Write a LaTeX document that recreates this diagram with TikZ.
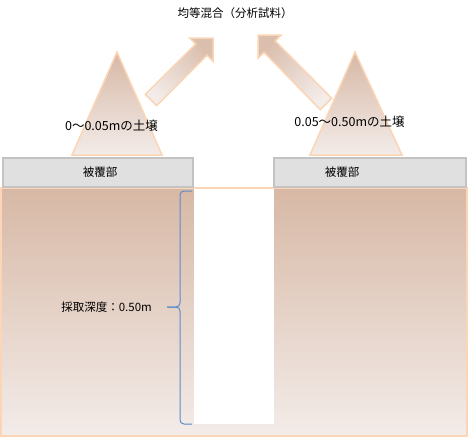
\documentclass[tikz,border=0pt]{standalone}
\usepackage{fontspec}
\setmainfont{Noto Sans CJK JP}

\definecolor{peach}{HTML}{FBD5B5}
\definecolor{soiltop}{HTML}{D7B8A5}
\definecolor{soilbot}{HTML}{F3ECE9}
\definecolor{coverfill}{HTML}{E0E0E0}
\definecolor{coverline}{HTML}{C3C3C3}
\definecolor{bracecol}{HTML}{5B8BCC}

\begin{document}
\begin{tikzpicture}[x=1pt,y=-1pt,
  lbl/.style={font=\fontsize{11.5}{13}\selectfont,inner sep=0pt},
  pile/.style={draw=peach,line width=1.5pt,top color=soiltop,bottom color=soilbot},
  blockarrow/.style={draw=peach,line width=1.5pt,top color=soiltop!90,bottom color=soilbot},
  cover/.style={fill=coverfill,draw=coverline,line width=1.2pt}]
  \useasboundingbox (0,0) rectangle (469,437);

  % soil with the sampling hole
  \draw[pile] (1,188) rectangle (467,436);
  \fill[white] (193.5,189.2) rectangle (274,424);
  \draw[cover] (3,158) rectangle (193,187);
  \draw[cover] (274,158) rectangle (466,187);
  \node[lbl] (cvl) at (100,172) {被覆部};
  \node[lbl] (cvr) at (342,172) {被覆部};

  % piles of the two layers
  \draw[pile] (117,52) -- (162,155) -- (72,155) -- cycle;
  \draw[pile] (355,52) -- (402,155) -- (310,155) -- cycle;
  \node[lbl,font=\fontsize{12.5}{14}\selectfont] (soila) at (111.5,126) {0〜0.05mの土壌};
  \node[lbl,font=\fontsize{12.5}{14}\selectfont] (soilb) at (349.5,122) {0.05〜0.50mの土壌};

  % mixing arrows
  \draw[blockarrow,shading angle=-45] (145.3,94.3) -- (195.7,44) -- (189.7,38) -- (213,38)
    -- (213,61.3) -- (207,55.3) -- (156.7,105.7) -- cycle;
  \draw[blockarrow,shading angle=45] (258,35) -- (281.3,35) -- (275.3,41) -- (331.7,98.3)
    -- (320.3,109.7) -- (264,52.3) -- (258,58.3) -- cycle;
  \node[lbl] (mix) at (235,13) {均等混合（分析試料）};

  % depth brace
  \coordinate (btop) at (192,191);
  \coordinate (bbot) at (192,424);
  \coordinate (btip) at (167,307);
  \draw[bracecol,line width=1pt,rounded corners=4pt] (btop) -- (180,191) -- (180,307) -- (btip);
  \draw[bracecol,line width=1pt,rounded corners=4pt] (bbot) -- (180,424) -- (180,307) -- (btip);
  \node[lbl,anchor=east] (depth) at (152,307) {採取深度：0.50m};
\end{tikzpicture}
\end{document}
